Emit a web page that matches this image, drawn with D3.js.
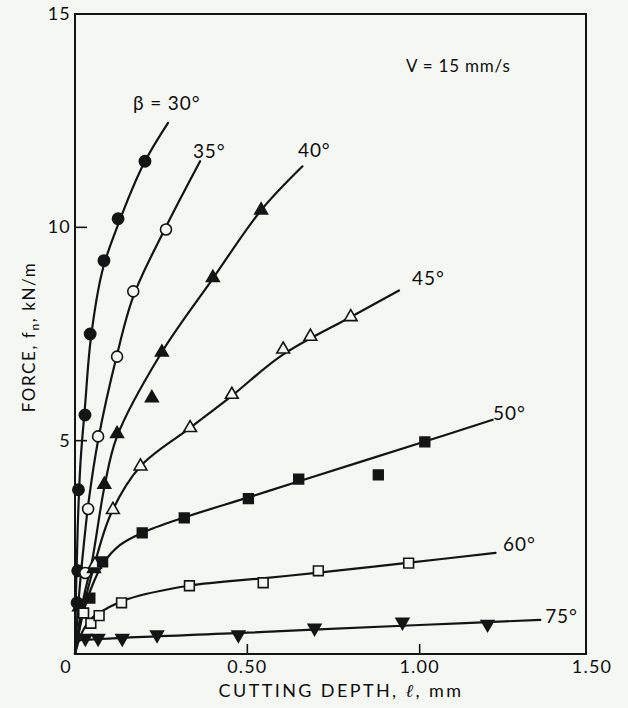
<!DOCTYPE html>
<html><head><meta charset="utf-8">
<script src="https://cdn.jsdelivr.net/npm/d3@7"></script>
<style>
html,body{margin:0;padding:0;background:#f5f7f3;}
svg{display:block;}
text{font-family:Lato,"Noto Sans",sans-serif;fill:#0e0e0e;}
</style></head>
<body>
<script>
// ---------- data ----------
const series = ["30", "35", "40", "45", "50", "60", "75"];
const markerTypes = ["circleFilled","circleOpen","triUpFilled","triUpOpen","squareFilled","squareOpen","triDownFilled"];

// measured points [cutting depth mm, force kN/m]
const pts30 = [[0.006,1.2],[0.008,1.95],[0.01,3.85],[0.029,5.6],[0.044,7.5],[0.084,9.22],[0.125,10.2],[0.203,11.55]];
const pts35 = [[0.03,1.9],[0.038,3.4],[0.067,5.1],[0.122,6.97],[0.169,8.5],[0.264,9.95]];
const pts40 = [[0.012,1.1],[0.055,2.0],[0.085,3.97],[0.122,5.16],[0.223,6.0],[0.252,7.07],[0.40,8.82],[0.54,10.4]];
const pts45 = [[0.058,2.1],[0.11,3.38],[0.19,4.4],[0.334,5.3],[0.455,6.08],[0.604,7.14],[0.683,7.44],[0.80,7.9]];
const pts50 = [[0.043,1.31],[0.08,2.16],[0.195,2.84],[0.317,3.19],[0.503,3.64],[0.649,4.1],[0.88,4.2],[1.015,4.97]];
const pts60 = [[0.025,0.96],[0.046,0.72],[0.07,0.9],[0.135,1.2],[0.332,1.6],[0.546,1.67],[0.706,1.95],[0.968,2.13]];
const pts75 = [[0.03,0.37],[0.067,0.37],[0.137,0.37],[0.238,0.45],[0.474,0.45],[0.695,0.61],[0.95,0.75],[1.197,0.70]];

// fitted curves drawn through the data
const fit30 = [[0,0],[0.003,1.5],[0.008,3],[0.016,4.5],[0.029,5.8],[0.046,7.4],[0.08,9.0],[0.122,10.0],[0.2,11.5],[0.27,12.45]];
const fit35 = [[0,0],[0.012,1.4],[0.026,2.6],[0.04,3.6],[0.068,5.05],[0.12,6.95],[0.17,8.4],[0.26,9.95],[0.363,11.55]];
const fit40 = [[0,0],[0.022,1.2],[0.05,2.2],[0.085,3.9],[0.122,5.1],[0.25,7.05],[0.40,8.8],[0.54,10.4],[0.66,11.43]];
const fit45 = [[0,0],[0.025,1.1],[0.055,2.05],[0.105,3.3],[0.19,4.4],[0.334,5.3],[0.455,6.05],[0.60,7.0],[0.80,7.9],[0.94,8.52]];
const fit50 = [[0,0],[0.022,0.9],[0.045,1.5],[0.08,2.1],[0.13,2.55],[0.195,2.84],[0.317,3.2],[0.503,3.67],[0.65,4.05],[1.015,4.98],[1.212,5.49]];
const fit60 = [[0,0],[0.02,0.5],[0.05,0.85],[0.1,1.1],[0.15,1.28],[0.33,1.6],[0.55,1.78],[0.70,1.9],[0.97,2.14],[1.22,2.37]];
const fit75 = [[0,0],[0.01,0.3],[0.05,0.34],[0.5,0.5],[1.0,0.68],[1.35,0.80]];

const allPts = [pts30, pts35, pts40, pts45, pts50, pts60, pts75];
const allFits = [fit30, fit35, fit40, fit45, fit50, fit60, fit75];

// curve labels: text and anchor in data units (start, baseline)
const labelTexts = ["\u03B2 = 30\u00B0","35\u00B0","40\u00B0","45\u00B0","50\u00B0","60\u00B0","75\u00B0"];
const labelAnchors = [[0.168,12.75],[0.342,11.62],[0.647,11.65],[0.978,8.65],[1.213,5.48],[1.242,2.41],[1.364,0.73]];
const noteText = "V = 15 mm/s";
const noteAnchor = [0.96,13.64];

const xTicks = [0, 0.5, 1.0, 1.5];
const xTickLabels = ["0","0.50","1.00","1.50"];
const yTicks = [5, 10, 15];
const yTickLabels = ["5","10","15"];
const xInnerTicks = [0.5, 1.0];
const yInnerTicks = [5, 10];

// ---------- drawing ----------
const W = 628, H = 708;
const svg = d3.select("body").append("svg").attr("width", W).attr("height", H);
const bg = "#f5f7f3", ink = "#141414";
svg.append("rect").attr("width", W).attr("height", H).attr("fill", bg);

const x = d3.scaleLinear().domain([0, 1.5]).range([75, 592]);
const y = d3.scaleLinear().domain([0, 15]).range([654, 14]);

// frame
svg.append("rect")
  .attr("x", x(0)).attr("y", y(15))
  .attr("width", x(1.5) - x(0) - 6).attr("height", y(0) - y(15))
  .attr("fill", "none").attr("stroke", ink).attr("stroke-width", 2);

// inner ticks
svg.selectAll(".xt").data(xInnerTicks).enter().append("line")
  .attr("x1", d => x(d)).attr("x2", d => x(d))
  .attr("y1", y(0)).attr("y2", y(0) - 10)
  .attr("stroke", ink).attr("stroke-width", 1.6);
svg.selectAll(".yt").data(yInnerTicks).enter().append("line")
  .attr("x1", x(0)).attr("x2", x(0) + 12)
  .attr("y1", d => y(d)).attr("y2", d => y(d))
  .attr("stroke", ink).attr("stroke-width", 1.6);

// tick labels
svg.selectAll(".xl").data(xTicks).enter().append("text")
  .attr("x", (d, i) => i === 0 ? x(d) - 9 : x(d))
  .attr("y", 673)
  .attr("text-anchor", "middle")
  .attr("font-size", 18).attr("letter-spacing", 1.2)
  .text((d, i) => xTickLabels[i]);
svg.selectAll(".yl").data(yTicks).enter().append("text")
  .attr("x", 71)
  .attr("y", d => y(d) + 6)
  .attr("text-anchor", "end")
  .attr("font-size", 18).attr("letter-spacing", 1.2)
  .text((d, i) => yTickLabels[i]);

// axis titles
const xt = svg.append("text").attr("x", 341).attr("y", 697).attr("text-anchor", "middle")
  .attr("font-size", 18).attr("letter-spacing", 2.4);
xt.append("tspan").text("CUTTING DEPTH, ");
xt.append("tspan").attr("font-style", "italic").attr("font-family", "DejaVu Serif").text("\u2113");
xt.append("tspan").text(", mm");

const yt = svg.append("text").attr("transform", "translate(35,337) rotate(-90)")
  .attr("text-anchor", "middle").attr("font-size", 17).attr("letter-spacing", 1.6);
yt.append("tspan").text("FORCE, f");
yt.append("tspan").attr("font-size", 12).attr("dy", 4).text("n");
yt.append("tspan").attr("dy", -4).text(", kN/m");

// curves
const line = d3.line().x(d => x(d[0])).y(d => y(d[1])).curve(d3.curveCatmullRom.alpha(0.5));
svg.selectAll(".fit").data(allFits).enter().append("path")
  .attr("d", d => line(d))
  .attr("fill", "none").attr("stroke", ink).attr("stroke-width", 2.2)
  .attr("stroke-linejoin", "round").attr("stroke-linecap", "round");

// markers
const sym = {
  circleFilled: [d3.symbolCircle, 100, true],
  circleOpen: [d3.symbolCircle, 95, false],
  triUpFilled: [d3.symbolTriangle, 70, true],
  triUpOpen: [d3.symbolTriangle, 70, false],
  squareFilled: [d3.symbolSquare, 95, true],
  squareOpen: [d3.symbolSquare, 95, false],
  triDownFilled: [d3.symbolTriangle, 70, true]
};
allPts.forEach((pts, si) => {
  const [type, size, filled] = sym[markerTypes[si]];
  const flip = markerTypes[si] === "triDownFilled";
  svg.append("g").selectAll("path").data(pts).enter().append("path")
    .attr("d", d3.symbol().type(type).size(size)())
    .attr("transform", d => `translate(${x(d[0])},${y(d[1])})` + (flip ? " rotate(180)" : ""))
    .attr("fill", filled ? ink : bg)
    .attr("stroke", ink).attr("stroke-width", 1.6);
});

// curve labels
svg.selectAll(".lab").data(labelAnchors).enter().append("text")
  .attr("x", d => x(d[0])).attr("y", d => y(d[1]))
  .attr("font-size", 19).attr("letter-spacing", 0.9)
  .text((d, i) => labelTexts[i]);

svg.append("text").attr("x", x(noteAnchor[0])).attr("y", y(noteAnchor[1]))
  .attr("font-size", 17).attr("letter-spacing", 0.8).text(noteText);
</script>
</body></html>
